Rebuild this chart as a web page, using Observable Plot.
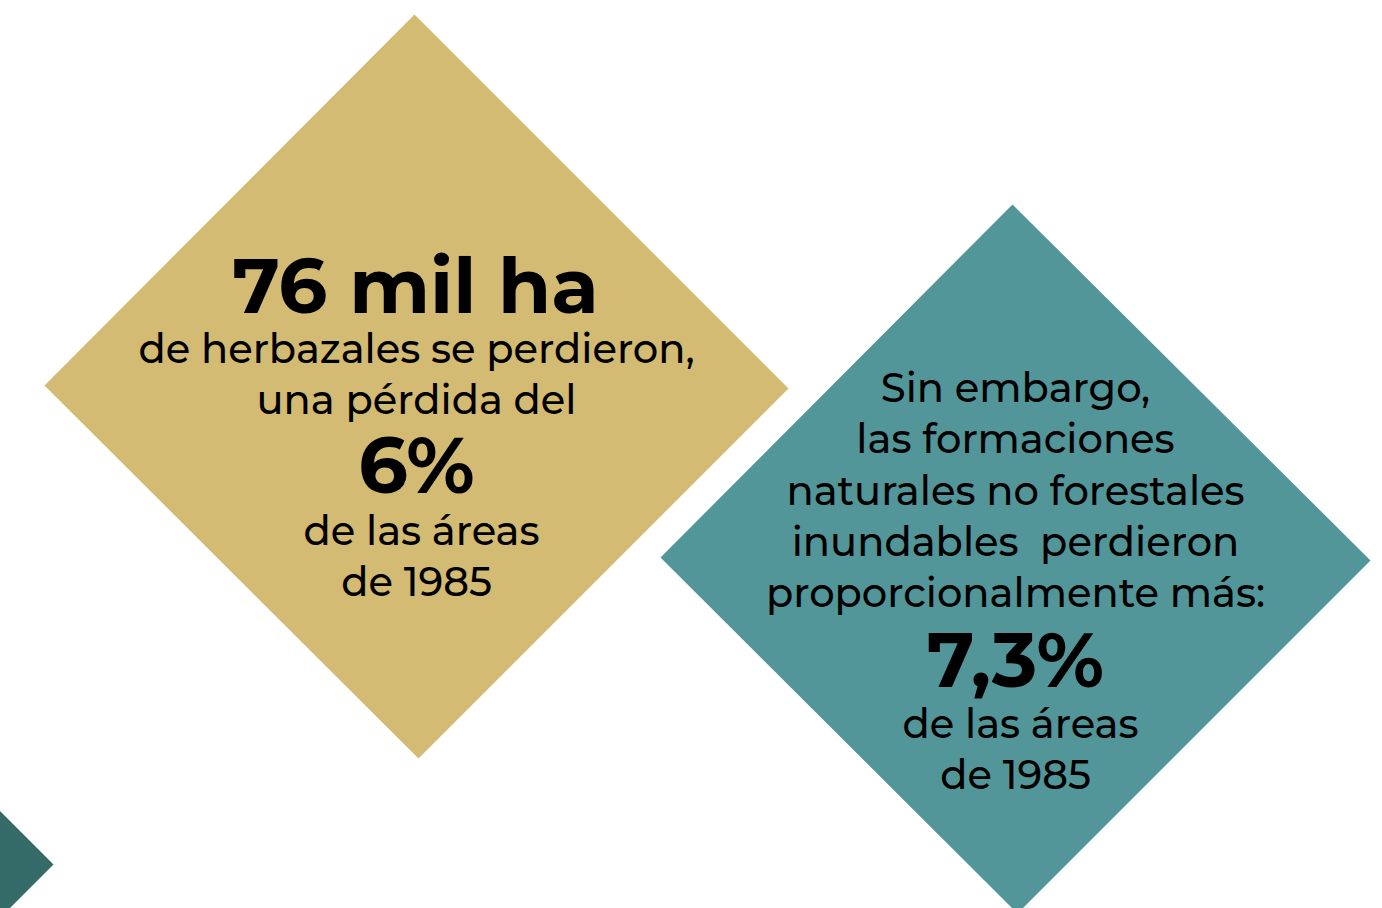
<!DOCTYPE html>
<html>
<head>
<meta charset="utf-8">
<script src="https://cdn.jsdelivr.net/npm/d3@7"></script>
<script src="https://cdn.jsdelivr.net/npm/@observablehq/plot@0.6"></script>
<style>
  html, body { margin: 0; padding: 0; background: #ffffff; }
  #chart svg { display: block; }
</style>
</head>
<body>
<div id="chart"></div>
<script>
// ---- data ----
const diamondNames = ["herbazales", "inundables", "otro"];
const goldLines = ["76 mil ha", "de herbazales se perdieron,", "una pérdida del", "6%", "de las áreas", "de 1985"];
const goldBold = [true, false, false, true, false, false];
const tealLines = ["Sin embargo,", "las formaciones", "naturales no forestales", "inundables  perdieron", "proporcionalmente más:", "7,3%", "de las áreas", "de 1985"];
const tealBold = [false, false, false, false, false, true, false, false];

// ---- layout (pixel space) ----
const W = 1382, H = 908;
const colors = {herbazales: "#d4bb73", inundables: "#529699", otro: "#346a68"};
const diamondGeom = {
  herbazales: [[414, 14], [788, 388], [418, 758], [44, 385]],
  inundables: [[1012, 204], [1370, 560], [1017, 913], [660, 557]],
  otro: [[-60, 751], [53, 864], [-60, 977], [-173, 864]]
};
const B = 40;
const goldLayout = [
  {x: 415, y: 312, size: 77}, {x: 416, y: 362, size: B}, {x: 416, y: 413, size: B},
  {x: 416, y: 492, size: 78}, {x: 421, y: 544, size: B}, {x: 416, y: 595, size: B}
];
const tealLayout = [
  {x: 1015, y: 401, size: B}, {x: 1015, y: 452, size: B}, {x: 1015, y: 504, size: B},
  {x: 1015, y: 555, size: B}, {x: 1015, y: 606, size: B},
  {x: 1015, y: 686, size: 77}, {x: 1020, y: 737, size: B}, {x: 1015, y: 788, size: B}
];

const polyPts = diamondNames.flatMap(name => diamondGeom[name].map(([x, y]) => ({name, x, y})));
const textRows = [
  ...goldLines.map((t, i) => ({t, bold: goldBold[i], ...goldLayout[i]})),
  ...tealLines.map((t, i) => ({t, bold: tealBold[i], ...tealLayout[i]}))
];

const font = "Montserrat, 'DejaVu Sans', sans-serif";

const plot = Plot.plot({
  width: W, height: H,
  margin: 0,
  x: {domain: [0, W], axis: null},
  y: {domain: [0, H], axis: null, range: [0, H]},
  style: {background: "#ffffff", fontFamily: font},
  marks: [
    Plot.line(polyPts, {x: "x", y: "y", z: "name", fill: d => colors[d.name], stroke: "none", curve: "linear-closed"}),
    ...textRows.map(r => Plot.text([r], {
      x: "x", y: "y", text: "t", fontSize: r.size, fontWeight: r.bold ? 700 : 500,
      fill: "#000", textAnchor: "middle", lineAnchor: "bottom", fontFamily: font
    }))
  ]
});
document.getElementById("chart").appendChild(plot);
</script>
</body>
</html>
